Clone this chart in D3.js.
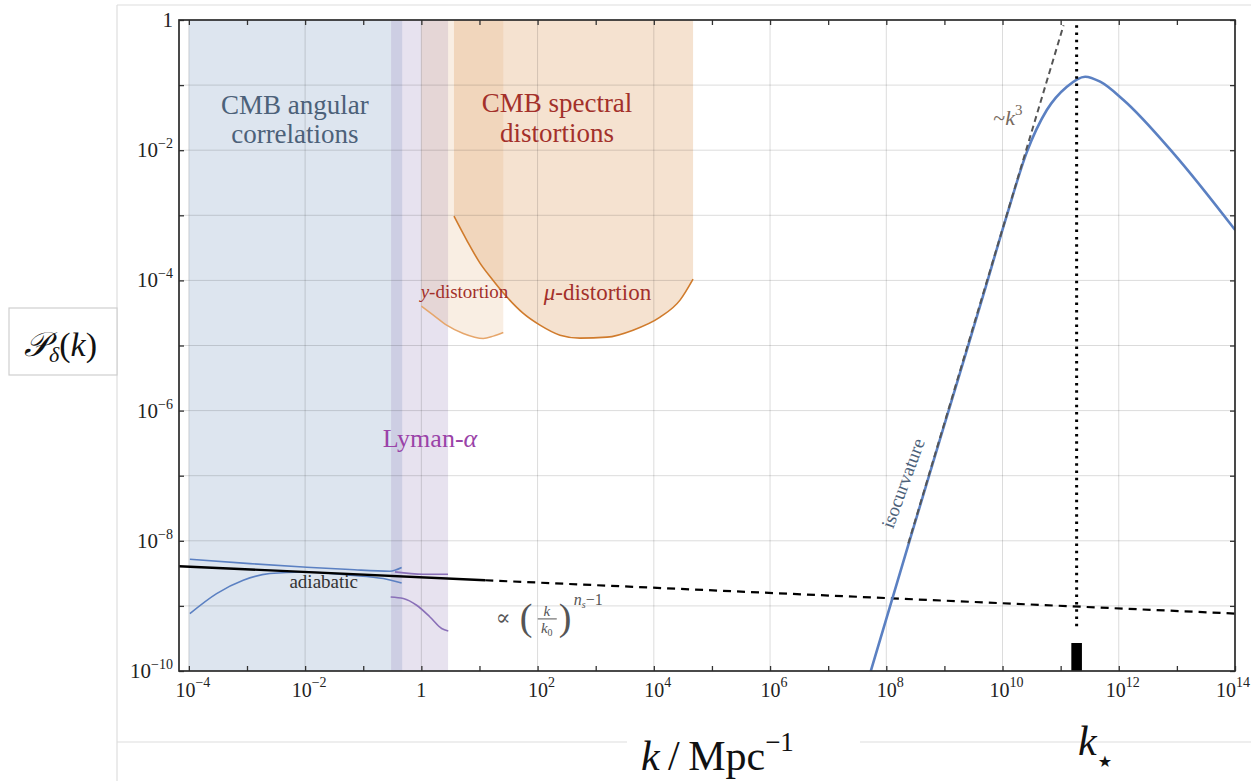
<!DOCTYPE html>
<html>
<head>
<meta charset="utf-8">
<script src="https://cdn.jsdelivr.net/npm/d3@7"></script>
<style>
body { margin: 0; background: #fff; }
</style>
</head>
<body>
<div id="chart"></div>
<script>
// values are log10(k / Mpc^-1) and log10(P)
var xTickExp = d3.range(-4, 15),
    xLabelExp = [-4, -2, 0, 2, 4, 6, 8, 10, 12, 14],
    yTickExp = d3.range(-10, 1),
    yLabelExp = [-10, -8, -6, -4, -2, 0];

var cmbBand = [-4, -0.33],
    lymanBand = [-0.52, 0.46];

var yDistLogK = [0.0, 0.206, 0.435, 0.721, 1.065, 1.237, 1.41],
    yDistLogP = [-4.395, -4.533, -4.687, -4.815, -4.892, -4.856, -4.80];

var muDistLogK = [0.561, 0.78, 1.009, 1.232, 1.468, 1.749, 2.041, 2.386, 2.73, 3.194, 3.642, 4.107, 4.451, 4.675],
    muDistLogP = [-3.012, -3.381, -3.734, -3.996, -4.252, -4.503, -4.687, -4.841, -4.887, -4.872, -4.764, -4.564, -4.303, -3.98];

var cmbUpLogK = [-3.983, -2.95, -2.033, -1.229, -0.54, -0.339],
    cmbUpLogP = [-8.283, -8.35, -8.402, -8.442, -8.468, -8.411];
var cmbLoLogK = [-3.983, -3.523, -3.065, -2.606, -2.033, -1.229, -0.656, -0.339],
    cmbLoLogP = [-9.118, -8.811, -8.606, -8.503, -8.479, -8.529, -8.58, -8.648];
var lyaUpLogK = [-0.454, 0.028, 0.458],
    lyaUpLogP = [-8.478, -8.514, -8.514];
var lyaLoLogK = [-0.528, -0.311, -0.081, 0.148, 0.349, 0.463],
    lyaLoLogP = [-8.863, -8.887, -8.99, -9.17, -9.348, -9.385];

var nsLogK = [-4.17, 1.1, 14],
    nsLogP = [-8.39, -8.606, -9.118];

var peakLogK = [7.70, 8.41, 9.241, 9.671, 10.074, 10.418, 10.762, 11.107, 11.422, 11.68, 12.081, 12.942, 14.003],
    peakLogP = [-10.10, -7.97, -5.50, -4.22, -3.0, -2.03, -1.383, -1.025, -0.871, -0.948, -1.229, -2.049, -3.227];

var k3LogK = [8.38, 11.05],
    k3LogP = [-8.04, -0.08];

var kStarExp = 11.275,
    kStarTop = -0.08,
    dotEnd = -9.35,
    barTop = -9.57;

var W = 1251, H = 781;
var serif = "'Liberation Serif', 'Times New Roman', 'DejaVu Serif', serif";
var svg = d3.select("#chart").append("svg")
    .attr("width", W).attr("height", H)
    .attr("font-family", serif);

var x = d3.scaleLog().domain([Math.pow(10, -4.17), 1e14]).range([179, 1235]),
    y = d3.scaleLog().domain([1e-10, 1]).range([671, 20]);

function p10(v) { return Math.pow(10, v); }
function px(v) { return x(p10(v)); }
function py(v) { return y(p10(v)); }
function zip(a, b) { return a.map(function (d, i) { return [d, b[i]]; }); }

var line = d3.line().x(function (d) { return px(d[0]); }).y(function (d) { return py(d[1]); }).curve(d3.curveMonotoneX);
var straight = d3.line().x(function (d) { return px(d[0]); }).y(function (d) { return py(d[1]); });

// page frame lines from the original screenshot
var frame = svg.append("g").attr("stroke", "#dedede").attr("stroke-width", 1.2);
frame.append("line").attr("x1", 117).attr("x2", W).attr("y1", 5).attr("y2", 5);
frame.append("line").attr("x1", 117).attr("x2", 117).attr("y1", 5).attr("y2", H);
frame.append("line").attr("x1", 117).attr("x2", 627).attr("y1", 742).attr("y2", 742);
frame.append("line").attr("x1", 860).attr("x2", W).attr("y1", 742).attr("y2", 742);

svg.append("clipPath").attr("id", "plotclip").append("rect")
    .attr("x", 179).attr("y", 20).attr("width", 1056).attr("height", 651);

var plot = svg.append("g").attr("clip-path", "url(#plotclip)");

// bands
plot.append("rect")
    .attr("x", px(cmbBand[0])).attr("width", px(cmbBand[1]) - px(cmbBand[0]))
    .attr("y", 20).attr("height", 651)
    .attr("fill", "rgb(120,150,192)").attr("opacity", 0.25);
plot.append("rect")
    .attr("x", px(lymanBand[0])).attr("width", px(lymanBand[1]) - px(lymanBand[0]))
    .attr("y", 20).attr("height", 651)
    .attr("fill", "rgb(160,140,192)").attr("opacity", 0.25);

function closedArea(lk, lp) {
    return line(zip(lk, lp)) + "L" + px(lk[lk.length - 1]) + "," + py(0) + "L" + px(lk[0]) + "," + py(0) + "Z";
}
plot.append("path").attr("d", closedArea(yDistLogK, yDistLogP))
    .attr("fill", "rgb(222,160,100)").attr("opacity", 0.18);
plot.append("path").attr("d", closedArea(muDistLogK, muDistLogP))
    .attr("fill", "rgb(222,160,100)").attr("opacity", 0.3);

// grid
var grid = plot.append("g").attr("stroke", "#000").attr("stroke-opacity", 0.14).attr("stroke-width", 1);
grid.selectAll(".gv").data(xLabelExp).join("line")
    .attr("x1", function (d) { return px(d); }).attr("x2", function (d) { return px(d); })
    .attr("y1", 20).attr("y2", 671);
grid.selectAll(".gh").data(yTickExp.slice(1, -1)).join("line")
    .attr("y1", function (d) { return py(d); }).attr("y2", function (d) { return py(d); })
    .attr("x1", 179).attr("x2", 1235);

// distortion boundaries
plot.append("path").attr("d", line(zip(yDistLogK, yDistLogP)))
    .attr("fill", "none").attr("stroke", "#e6a66b").attr("stroke-width", 1.5);
plot.append("path").attr("d", line(zip(muDistLogK, muDistLogP)))
    .attr("fill", "none").attr("stroke", "#d07b2c").attr("stroke-width", 1.6);

// CMB / Lyman-alpha constraint curves
[[cmbUpLogK, cmbUpLogP], [cmbLoLogK, cmbLoLogP]].forEach(function (c) {
    plot.append("path").attr("d", line(zip(c[0], c[1])))
        .attr("fill", "none").attr("stroke", "#5b80c2").attr("stroke-width", 1.6);
});
[[lyaUpLogK, lyaUpLogP], [lyaLoLogK, lyaLoLogP]].forEach(function (c) {
    plot.append("path").attr("d", line(zip(c[0], c[1])))
        .attr("fill", "none").attr("stroke", "#8a70b8").attr("stroke-width", 1.6);
});

// adiabatic power law
plot.append("path").attr("d", straight(zip(nsLogK.slice(0, 2), nsLogP.slice(0, 2))))
    .attr("fill", "none").attr("stroke", "#000").attr("stroke-width", 2.4);
plot.append("path").attr("d", straight(zip(nsLogK.slice(1), nsLogP.slice(1))))
    .attr("fill", "none").attr("stroke", "#000").attr("stroke-width", 2.2)
    .attr("stroke-dasharray", "8,6");

// isocurvature peak
plot.append("path").attr("d", line(zip(peakLogK, peakLogP)))
    .attr("fill", "none").attr("stroke", "#5b80c2").attr("stroke-width", 2.6);
plot.append("path").attr("d", straight(zip(k3LogK, k3LogP)))
    .attr("fill", "none").attr("stroke", "#555").attr("stroke-width", 2)
    .attr("stroke-dasharray", "6,4");

// k star marker
plot.append("line")
    .attr("x1", px(kStarExp)).attr("x2", px(kStarExp))
    .attr("y1", py(kStarTop)).attr("y2", py(dotEnd))
    .attr("stroke", "#000").attr("stroke-width", 3).attr("stroke-dasharray", "2.5,4.8");
plot.append("rect")
    .attr("x", px(kStarExp) - 5.3).attr("width", 10.6)
    .attr("y", py(barTop)).attr("height", py(-10) - py(barTop))
    .attr("fill", "#000");

// axes: ticks on all four sides, pointing in
function styleAxis(g) {
    g.select(".domain").remove();
    g.selectAll(".tick line").attr("stroke", "#333").attr("stroke-width", 1.3);
}
svg.append("g").attr("transform", "translate(0,671)")
    .call(d3.axisBottom(x).tickValues(xTickExp.map(p10)).tickSize(-5).tickFormat(""))
    .call(styleAxis);
svg.append("g").attr("transform", "translate(0,20)")
    .call(d3.axisTop(x).tickValues(xTickExp.map(p10)).tickSize(-5).tickFormat(""))
    .call(styleAxis);
svg.append("g").attr("transform", "translate(179,0)")
    .call(d3.axisLeft(y).tickValues(yTickExp.map(p10)).tickSize(-5).tickFormat(""))
    .call(styleAxis);
svg.append("g").attr("transform", "translate(1235,0)")
    .call(d3.axisRight(y).tickValues(yTickExp.map(p10)).tickSize(-5).tickFormat(""))
    .call(styleAxis);

svg.append("rect").attr("x", 179).attr("y", 20).attr("width", 1056).attr("height", 651)
    .attr("fill", "none").attr("stroke", "#2b2b2b").attr("stroke-width", 1.7);

// all labels get the serif family explicitly
function txt(parent) {
    return parent.append("text").style("font-family", serif);
}

// tick labels
function powLabel(sel, e, big, small, raise) {
    if (e === 0) {
        sel.append("tspan").attr("font-size", big).text("1");
        return;
    }
    sel.append("tspan").attr("font-size", big).text("10");
    sel.append("tspan").attr("font-size", small).attr("dy", -raise)
        .text(e < 0 ? "\u2212" + (-e) : String(e));
}
xLabelExp.forEach(function (e) {
    var last = e === xLabelExp[xLabelExp.length - 1];
    var t = txt(svg).attr("x", last ? 1250 : px(e) + (e === 0 ? 0 : 4)).attr("y", 697)
        .attr("text-anchor", last ? "end" : "middle").attr("fill", "#222");
    powLabel(t, e, 20, 14, 10);
});
yLabelExp.forEach(function (e) {
    var t = txt(svg).attr("x", 173).attr("y", py(e) + 7)
        .attr("text-anchor", "end").attr("fill", "#222");
    powLabel(t, e, 21, 14, 9);
});

// axis titles
svg.append("rect").attr("x", 9).attr("y", 308).attr("width", 108).attr("height", 67)
    .attr("fill", "#fff").attr("stroke", "#cfcfcf").attr("stroke-width", 1.2);
var yt = txt(svg).attr("x", 24).attr("y", 356).attr("fill", "#111");
yt.append("tspan").attr("font-size", 34).attr("font-style", "italic").text("\uD835\uDCAB");
yt.append("tspan").attr("font-size", 22).attr("font-style", "italic").attr("dy", 6).text("\u03B4");
yt.append("tspan").attr("font-size", 34).attr("dy", -6).text("(");
yt.append("tspan").attr("font-size", 34).attr("font-style", "italic").text("k");
yt.append("tspan").attr("font-size", 34).text(")");

var xt = txt(svg).attr("x", 641).attr("y", 770).attr("fill", "#111");
xt.append("tspan").attr("font-size", 42).attr("font-style", "italic").text("k");
xt.append("tspan").attr("font-size", 42).text("\u2009/\u2009Mpc");
xt.append("tspan").attr("font-size", 27).attr("dy", -19).text("\u22121");

var ks = txt(svg).attr("x", 1078).attr("y", 755).attr("fill", "#111");
ks.append("tspan").attr("font-size", 42).attr("font-style", "italic").text("k");
ks.append("tspan").attr("font-size", 16).attr("dx", 1).attr("dy", 12).style("font-family", "'DejaVu Sans'").text("\u2605");

// annotations (each line its own text, so they do not share a box)
function twoLine(cx, lp1, lp2, l1, l2, color, size) {
    [[lp1, l1], [lp2, l2]].forEach(function (d) {
        txt(svg).attr("text-anchor", "middle").attr("fill", color).attr("font-size", size)
            .attr("x", px(cx)).attr("y", py(d[0])).text(d[1]);
    });
}
twoLine(-2.176, -1.44, -1.89, "CMB angular", "correlations", "#4c6179", 27);
twoLine(2.334, -1.42, -1.87, "CMB spectral", "distortions", "#a3302a", 27);

txt(svg).attr("x", px(0.148)).attr("y", py(-6.56)).attr("text-anchor", "middle")
    .attr("fill", "#9a43a8").attr("font-size", 26)
    .call(function (t) {
        t.append("tspan").text("Lyman-");
        t.append("tspan").attr("font-style", "italic").text("\u03B1");
    });

txt(svg).attr("x", px(0.742)).attr("y", py(-4.27)).attr("text-anchor", "middle")
    .attr("fill", "#a3302a").attr("font-size", 19)
    .call(function (t) {
        t.append("tspan").attr("font-style", "italic").text("y");
        t.append("tspan").text("-distortion");
    });
txt(svg).attr("x", px(3.03)).attr("y", py(-4.30)).attr("text-anchor", "middle")
    .attr("fill", "#a3302a").attr("font-size", 23)
    .call(function (t) {
        t.append("tspan").attr("font-style", "italic").text("\u03BC");
        t.append("tspan").text("-distortion");
    });

txt(svg).attr("x", px(-1.68)).attr("y", py(-8.73)).attr("text-anchor", "middle")
    .attr("fill", "#333").attr("font-size", 19).text("adiabatic");

txt(svg).attr("x", px(9.84)).attr("y", py(-1.61))
    .attr("fill", "#776a60").attr("font-size", 22)
    .call(function (t) {
        t.append("tspan").text("~");
        t.append("tspan").attr("font-style", "italic").text("k");
        t.append("tspan").attr("font-size", 15).attr("dy", -10).text("3");
    });

txt(svg)
    .attr("transform", "translate(" + px(8.39) + "," + py(-7.15) + ") rotate(-70)")
    .attr("text-anchor", "middle").attr("fill", "#4c6179").attr("font-size", 19)
    .text("isocurvature");

// proportional-to formula
var fx = px(1.9), fy = py(-9.2);
var fg = svg.append("g").attr("fill", "#555");
txt(fg).attr("x", fx - 36).attr("y", fy + 6).attr("font-size", 22).text("\u221D");
txt(fg).attr("x", fx - 12).attr("y", fy + 11).attr("font-size", 38).text("(");
txt(fg).attr("x", fx + 15).attr("y", fy - 3).attr("text-anchor", "middle")
    .attr("font-size", 15).attr("font-style", "italic").text("k");
fg.append("line").attr("x1", fx + 6).attr("x2", fx + 25).attr("y1", fy).attr("y2", fy)
    .attr("stroke", "#555").attr("stroke-width", 1);
txt(fg).attr("x", fx + 15).attr("y", fy + 14).attr("text-anchor", "middle")
    .attr("font-size", 15)
    .call(function (t) {
        t.append("tspan").attr("font-style", "italic").text("k");
        t.append("tspan").attr("font-size", 10).attr("dy", 3).text("0");
    });
txt(fg).attr("x", fx + 27).attr("y", fy + 11).attr("font-size", 38).text(")");
txt(fg).attr("x", fx + 42).attr("y", fy - 14).attr("font-size", 16)
    .call(function (t) {
        t.append("tspan").attr("font-style", "italic").text("n");
        t.append("tspan").attr("font-size", 10).attr("font-style", "italic").attr("dy", 3).text("s");
        t.append("tspan").attr("dy", -3).text("\u22121");
    });
</script>
</body>
</html>
